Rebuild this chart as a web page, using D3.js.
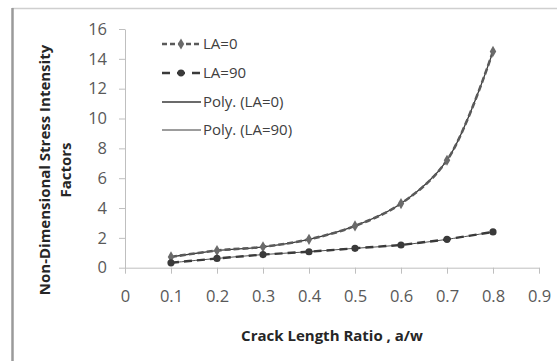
<!DOCTYPE html>
<html>
<head>
<meta charset="utf-8">
<script src="https://cdn.jsdelivr.net/npm/d3@7"></script>
<style>
  body { margin: 0; background: #fff; }
  svg text { font-family: "Open Sans", "Liberation Sans", sans-serif; }
  .axis path, .axis line { stroke: #bfbfbf; }
  .axis text { fill: #595959; font-size: 16.5px; }
</style>
</head>
<body>
<div id="chart-area"></div>
<script>
// values
var ratios = [0.1, 0.2, 0.3, 0.4, 0.5, 0.6, 0.7, 0.8];
var la0 = [0.72, 1.15, 1.4, 1.9, 2.8, 4.3, 7.2, 14.5];
var la90 = [0.33, 0.62, 0.88, 1.07, 1.3, 1.52, 1.9, 2.4];
var xTicks = [0, 0.1, 0.2, 0.3, 0.4, 0.5, 0.6, 0.7, 0.8, 0.9];
var yTicks = [0, 2, 4, 6, 8, 10, 12, 14, 16];
var legendNames = ["LA=0", "LA=90", "Poly. (LA=0)", "Poly. (LA=90)"];

var width = 557, height = 361;

var svg = d3.select("#chart-area").append("svg")
  .attr("width", width)
  .attr("height", height);

// chart border (only top and left are visible)
svg.append("line").attr("x1", 12).attr("x2", width).attr("y1", 8.5).attr("y2", 8.5)
  .attr("stroke", "#cfcfcf").attr("stroke-width", 1.5);
svg.append("line").attr("x1", 12.5).attr("x2", 12.5).attr("y1", 8).attr("y2", height)
  .attr("stroke", "#9a9a9a").attr("stroke-width", 2.5);

var x = d3.scaleLinear().domain([0, 0.9]).range([125, 539]);
var y = d3.scaleLinear().domain([0, 16]).range([267.7, 29]);

var xAxis = d3.axisBottom(x)
  .tickValues(xTicks)
  .tickSize(6)
  .tickPadding(17)
  .tickSizeOuter(0)
  .tickFormat(d => d === 0 ? "0" : d.toFixed(1));

var yAxis = d3.axisLeft(y)
  .tickValues(yTicks)
  .tickSize(6)
  .tickPadding(12)
  .tickSizeOuter(0)
  .tickFormat(d3.format("d"));

svg.append("g")
  .attr("class", "axis xAxis")
  .attr("transform", `translate(0, ${y(0)})`)
  .call(xAxis);

svg.append("g")
  .attr("class", "axis yAxis")
  .attr("transform", `translate(${x(0)}, 0)`)
  .call(yAxis);

// axis titles
svg.append("text")
  .attr("x", 332)
  .attr("y", 341)
  .attr("text-anchor", "middle")
  .style("font-size", "15px")
  .style("font-weight", "bold")
  .style("fill", "#262626")
  .text("Crack Length Ratio , a/w");

var yTitle = svg.append("text")
  .attr("transform", "translate(50, 170) rotate(-90)")
  .attr("text-anchor", "middle")
  .style("font-size", "15px")
  .style("font-weight", "bold")
  .style("fill", "#262626");
yTitle.append("tspan").attr("x", 0).attr("y", 0).text("Non-Dimensional Stress Intensity");
yTitle.append("tspan").attr("x", 0).attr("y", 21).text("Factors");

var pts0 = ratios.map((r, i) => [r, la0[i]]);
var pts90 = ratios.map((r, i) => [r, la90[i]]);

var straight = d3.line().x(d => x(d[0])).y(d => y(d[1]));
var smooth = d3.line().x(d => x(d[0])).y(d => y(d[1])).curve(d3.curveCatmullRom);

// trend lines (solid, thin)
svg.append("path").attr("d", smooth(pts0))
  .attr("fill", "none").attr("stroke", "#3a3a3a").attr("stroke-width", 1.3);
svg.append("path").attr("d", smooth(pts90))
  .attr("fill", "none").attr("stroke", "#3a3a3a").attr("stroke-width", 0.9);

// data series (dashed)
svg.append("path").attr("d", smooth(pts0))
  .attr("fill", "none").attr("stroke", "#5a5a5a").attr("stroke-width", 2.6)
  .attr("stroke-dasharray", "6,3");
svg.append("path").attr("d", straight(pts90))
  .attr("fill", "none").attr("stroke", "#3a3a3a").attr("stroke-width", 2.4)
  .attr("stroke-dasharray", "8,5");

svg.selectAll("path.m0")
  .data(pts0)
  .enter()
  .append("path")
  .attr("class", "m0")
  .attr("transform", d => `translate(${x(d[0])}, ${y(d[1])})`)
  .attr("d", d3.symbol(d3.symbolDiamond, 36))
  .attr("fill", "#6a6a6a");

svg.selectAll("circle.m90")
  .data(pts90)
  .enter()
  .append("circle")
  .attr("class", "m90")
  .attr("cx", d => x(d[0]))
  .attr("cy", d => y(d[1]))
  .attr("r", 3.6)
  .attr("fill", "#3a3a3a");

// legend
var legendY = [44, 73, 102, 130];
var lg = svg.append("g");

lg.append("line").attr("x1", 162).attr("x2", 201).attr("y1", legendY[0]).attr("y2", legendY[0])
  .attr("stroke", "#5a5a5a").attr("stroke-width", 2.6).attr("stroke-dasharray", "5,3");
lg.append("path").attr("transform", `translate(181, ${legendY[0]})`)
  .attr("d", d3.symbol(d3.symbolDiamond, 36)).attr("fill", "#6a6a6a");

lg.append("line").attr("x1", 162).attr("x2", 201).attr("y1", legendY[1]).attr("y2", legendY[1])
  .attr("stroke", "#3a3a3a").attr("stroke-width", 2.6).attr("stroke-dasharray", "8,7");
lg.append("circle").attr("cx", 181).attr("cy", legendY[1]).attr("r", 3.4).attr("fill", "#3a3a3a");

lg.append("line").attr("x1", 162).attr("x2", 201).attr("y1", legendY[2]).attr("y2", legendY[2])
  .attr("stroke", "#3a3a3a").attr("stroke-width", 1.6);
lg.append("line").attr("x1", 162).attr("x2", 201).attr("y1", legendY[3]).attr("y2", legendY[3])
  .attr("stroke", "#3a3a3a").attr("stroke-width", 1);

lg.selectAll("text")
  .data(legendNames)
  .enter()
  .append("text")
  .attr("x", 203)
  .attr("y", (d, i) => legendY[i])
  .attr("dy", "0.35em")
  .style("font-size", "15px")
  .style("fill", "#404040")
  .text(d => d);
</script>
</body>
</html>
